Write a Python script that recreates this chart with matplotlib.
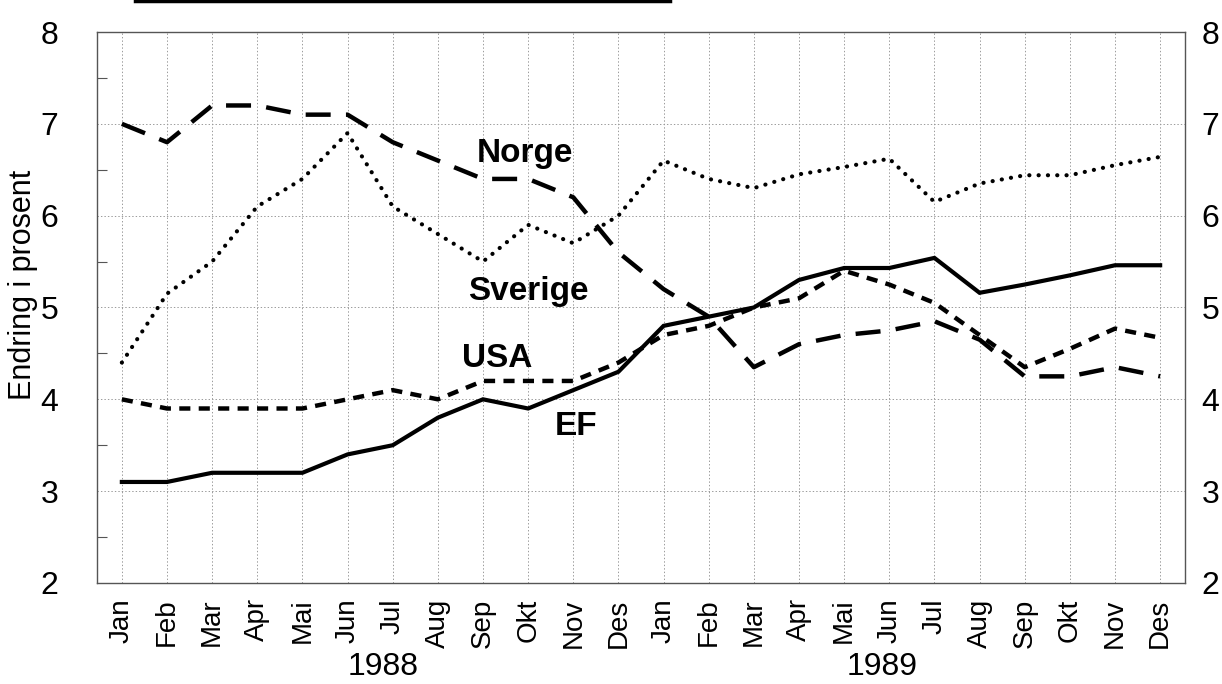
import matplotlib
matplotlib.use("Agg")
import matplotlib.pyplot as plt
import matplotlib.transforms as mtrans
from matplotlib.lines import Line2D
from matplotlib.ticker import MultipleLocator, FixedLocator

plt.rcParams['font.family'] = ['Liberation Sans', 'DejaVu Sans']
plt.rcParams['lines.scale_dashes'] = False

months = ["Jan", "Feb", "Mar", "Apr", "Mai", "Jun", "Jul", "Aug", "Sep", "Okt", "Nov", "Des",
          "Jan", "Feb", "Mar", "Apr", "Mai", "Jun", "Jul", "Aug", "Sep", "Okt", "Nov", "Des"]
years = ["1988", "1989"]

norge = [7.0, 6.8, 7.2, 7.2, 7.1, 7.1, 6.8, 6.6, 6.4, 6.4, 6.2, 5.6,
         5.2, 4.9, 4.35, 4.6, 4.7, 4.75, 4.85, 4.65, 4.25, 4.25, 4.35, 4.25]
sverige = [4.4, 5.15, 5.5, 6.1, 6.4, 6.9, 6.1, 5.8, 5.5, 5.9, 5.7, 6.0,
           6.6, 6.4, 6.3, 6.45, 6.53, 6.62, 6.15, 6.35, 6.44, 6.44, 6.55, 6.64]
usa = [4.0, 3.9, 3.9, 3.9, 3.9, 4.0, 4.1, 4.0, 4.2, 4.2, 4.2, 4.4,
       4.7, 4.8, 5.0, 5.1, 5.4, 5.25, 5.05, 4.7, 4.35, 4.55, 4.77, 4.67]
ef = [3.1, 3.1, 3.2, 3.2, 3.2, 3.4, 3.5, 3.8, 4.0, 3.9, 4.1, 4.3,
      4.8, 4.9, 5.0, 5.3, 5.43, 5.43, 5.54, 5.16, 5.25, 5.35, 5.46, 5.46]

x = list(range(len(months)))

fig = plt.figure(figsize=(12.22, 6.84), dpi=100)
ax = fig.add_axes([0.0794, 0.1477, 0.8903, 0.8055])

ax.plot(x, norge, color='black', lw=3.2, dashes=(18, 11), dash_capstyle='butt')
ax.plot(x, sverige, color='black', lw=3.0, dashes=(0.1, 6.6), dash_capstyle='round')
ax.plot(x, usa, color='black', lw=3.2, dashes=(8, 6), dash_capstyle='butt')
ax.plot(x, ef, color='black', lw=3.0, solid_joinstyle='miter')

ax.set_xlim(-0.55, 23.55)
ax.set_ylim(2, 8)

ax.xaxis.set_major_locator(FixedLocator(x))
ax.set_xticklabels(months, rotation=90, fontsize=20)
ax.tick_params(axis='x', length=0, pad=11)

ax.yaxis.set_major_locator(MultipleLocator(1))
ax.yaxis.set_minor_locator(MultipleLocator(0.5))
ax.tick_params(axis='y', which='both', direction='in', left=True, right=True, color='#555555')
ax.tick_params(axis='y', which='major', length=0, labelsize=23, pad=28)
ax.tick_params(axis='y', which='minor', length=7, width=0.8)

ax2 = ax.twinx()
ax2.set_ylim(2, 8)
ax2.yaxis.set_major_locator(MultipleLocator(1))
ax2.yaxis.set_minor_locator(MultipleLocator(0.5))
ax2.tick_params(axis='y', which='major', length=0, labelsize=23, pad=12)
ax2.tick_params(axis='y', which='minor', length=0)
for s in ax2.spines.values():
    s.set_visible(False)

ax.grid(True, which='major', color='#9a9a9a', lw=0.7, linestyle=(0, (1, 1.5)))
for s in ax.spines.values():
    s.set_color('#555555')
    s.set_linewidth(1.0)

ax.text(8.94, 6.584, "Norge", fontsize=24, fontweight='bold', ha='center', va='baseline')
ax.text(9.0, 5.08, "Sverige", fontsize=24, fontweight='bold', ha='center', va='baseline')
ax.text(8.31, 4.35, "USA", fontsize=24, fontweight='bold', ha='center', va='baseline')
ax.text(10.07, 3.61, "EF", fontsize=24, fontweight='bold', ha='center', va='baseline')

trans = mtrans.blended_transform_factory(ax.transData, ax.transAxes)
ax.text(5.79, -0.152, years[0], fontsize=23, ha='center', va='center', transform=trans)
ax.text(16.85, -0.152, years[1], fontsize=23, ha='center', va='center', transform=trans)

fig.text(23 / 1222, 0.583, "Endring i prosent", fontsize=22, rotation=90, ha='center', va='center')

fig.add_artist(Line2D([135 / 1222, 670 / 1222], [0.998, 0.998], color='black', lw=2.5,
                      transform=fig.transFigure))

fig.savefig("out.png", dpi=100)
